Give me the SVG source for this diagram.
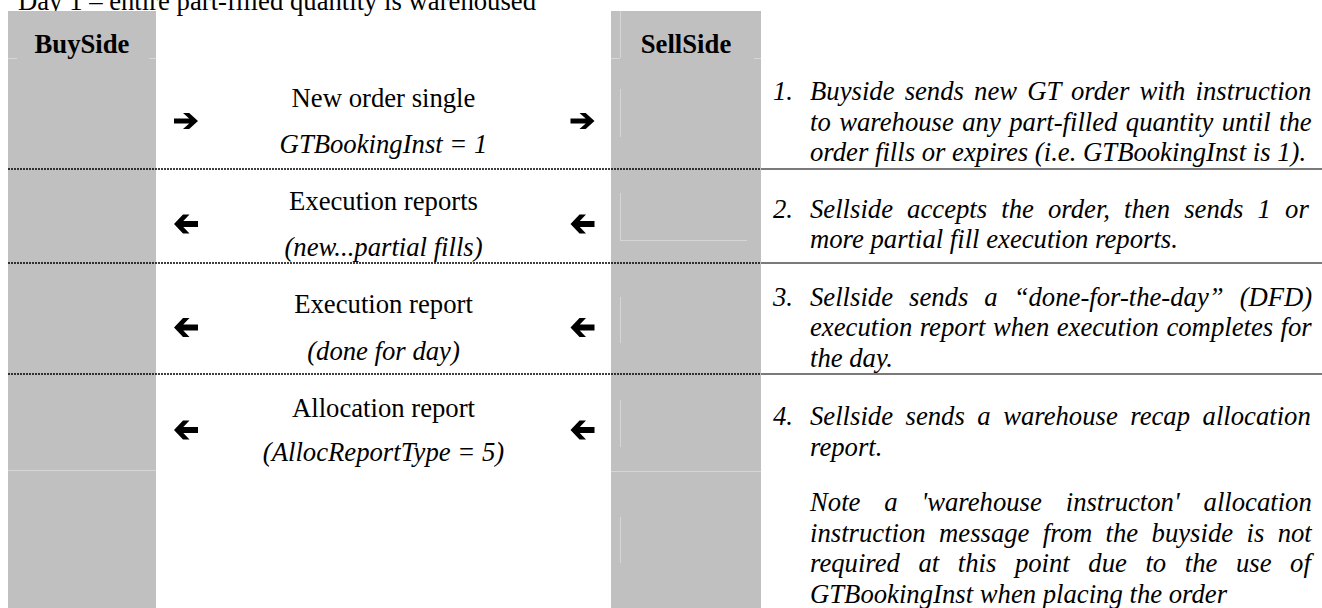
<svg xmlns="http://www.w3.org/2000/svg" width="1322" height="608" viewBox="0 0 1322 608">
  <style>
    text { font-family: "Liberation Serif", "Times New Roman", serif; font-size: 26.7px; fill: #000; }
    .hdr { font-weight: bold; text-anchor: middle; }
    .msg { text-anchor: middle; }
    .it { font-style: italic; }
    .col { fill: #c0c0c0; }
    .faint { stroke: #d6d6d6; stroke-width: 1; fill: none; }
    .sep { stroke: #000; stroke-width: 1.6; stroke-dasharray: 2 1; fill: none; }
    .rule { stroke: #7a7a7a; stroke-width: 2; fill: none; }
    .arrow { fill: #000; }
  </style>
  <defs>
    <path id="arR" d="M-12,-2.6 L3.2,-2.6 L-3,-8 L3.2,-8 L12,0 L3.2,8 L-3,8 L3.2,2.6 L-12,2.6 Z"/>
    <path id="arL" d="M12,-3 L-2.7,-3 L3.5,-9.5 L-3,-9.5 L-12,0 L-3,9.5 L3.5,9.5 L-2.7,3 L12,3 Z"/>
  </defs>

  <rect width="1322" height="608" fill="#ffffff"/>

  <g id="title">
    <text x="18" y="10">Day 1 – entire part-filled quantity is warehoused</text>
  </g>

  <g id="buyside">
    <rect class="col" x="8" y="11" width="148" height="597"/>
    <path class="faint" d="M8,58.5 H17 M149,58.5 H156 M8,470.5 H156"/>
    <text class="hdr" x="82" y="52.5">BuySide</text>
  </g>

  <g id="sellside">
    <rect class="col" x="611" y="11" width="150" height="597"/>
    <path class="faint" d="M620.5,11 V58 M611,58.5 H620 M754,58.5 H761 M620.5,89 V137 M620.5,193 V240 M620,240.5 H747 M620.5,297 V343 M620.5,400 V447 M611,471.5 H761 M620.5,517 V563"/>
    <text class="hdr" x="686" y="52.5">SellSide</text>
  </g>

  <g id="connectors">
    <path class="sep" d="M8,169 H761 M8,263 H761 M8,374 H761"/>
    <path class="rule" d="M761,169 H1322 M761,263 H1322 M761,374 H1322"/>
    <use href="#arR" class="arrow" x="186" y="121"/>
    <use href="#arR" class="arrow" x="582.5" y="121"/>
    <use href="#arL" class="arrow" x="186" y="224"/>
    <use href="#arL" class="arrow" x="582.5" y="224"/>
    <use href="#arL" class="arrow" x="186" y="327.5"/>
    <use href="#arL" class="arrow" x="582.5" y="327.5"/>
    <use href="#arL" class="arrow" x="186" y="430"/>
    <use href="#arL" class="arrow" x="582.5" y="430"/>
  </g>

  <g id="msg1">
    <text class="msg" x="383.5" y="106.7">New order single</text>
    <text class="msg it" x="383.5" y="153.3">GTBookingInst = 1</text>
  </g>
  <g id="msg2">
    <text class="msg" x="383.5" y="210">Execution reports</text>
    <text class="msg it" x="383.5" y="256">(new...partial fills)</text>
  </g>
  <g id="msg3">
    <text class="msg" x="383.5" y="313.3">Execution report</text>
    <text class="msg it" x="383.5" y="359.5">(done for day)</text>
  </g>
  <g id="msg4">
    <text class="msg" x="383.5" y="417.3">Allocation report</text>
    <text class="msg it" x="383.5" y="461">(AllocReportType = 5)</text>
  </g>

  <g id="note1">
    <text class="it" x="773" y="100">1.</text>
    <text class="it" x="810" y="100" word-spacing="3.48">Buyside sends new GT order with instruction</text>
    <text class="it" x="810" y="130.5" word-spacing="1.75">to warehouse any part-filled quantity until the</text>
    <text class="it" x="810" y="161">order fills or expires (i.e. GTBookingInst is 1).</text>
  </g>
  <g id="note2">
    <text class="it" x="773" y="217.5">2.</text>
    <text class="it" x="810" y="217.5" word-spacing="7.44">Sellside accepts the order, then sends 1 or</text>
    <text class="it" x="810" y="248">more partial fill execution reports.</text>
  </g>
  <g id="note3">
    <text class="it" x="773" y="305.5">3.</text>
    <text class="it" x="810" y="305.5" word-spacing="9.33">Sellside sends a “done-for-the-day” (DFD)</text>
    <text class="it" x="810" y="336" word-spacing="0.8">execution report when execution completes for</text>
    <text class="it" x="810" y="366.5">the day.</text>
  </g>
  <g id="note4">
    <text class="it" x="773" y="425">4.</text>
    <text class="it" x="810" y="425" word-spacing="5.82">Sellside sends a warehouse recap allocation</text>
    <text class="it" x="810" y="455.5">report.</text>
    <text class="it" x="810" y="511" word-spacing="17.2">Note a 'warehouse instructon' allocation</text>
    <text class="it" x="810" y="541.5" word-spacing="6.7">instruction message from the buyside is not</text>
    <text class="it" x="810" y="572" word-spacing="11.89">required at this point due to the use of</text>
    <text class="it" x="810" y="602.5">GTBookingInst when placing the order</text>
  </g>
</svg>
